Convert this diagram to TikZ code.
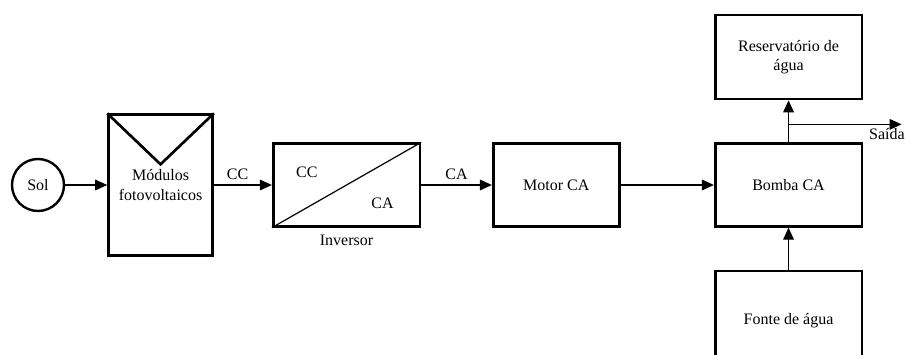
\documentclass[tikz,border=0pt]{standalone}
\usepackage{fontspec}
\setmainfont{Liberation Serif}
\usepackage{tikz}
\usetikzlibrary{arrows.meta, positioning}

\begin{document}
\begin{tikzpicture}[font=\fontsize{12}{14.5}\selectfont,
        block/.style={draw, line width=2pt, align=center, minimum height=62pt},
        arrow/.style={-{Triangle[length=9pt, width=8pt]}, line width=0.9pt}
      ]
        \useasboundingbox (-28.5pt,-126.75pt) rectangle (650.25pt,138.75pt);

        \node[circle, draw, line width=1.8pt, minimum size=39pt, inner sep=0pt] (sol) {Sol};
        \node[block, right=31.5pt of sol, minimum width=78pt, minimum height=105.5pt] (pv)
          {M\'odulos\\fotovoltaicos};
        \node[block, right=43.5pt of pv, minimum width=110pt]   (inv)   {};
        \node[block, right=53pt of inv, minimum width=94.5pt] (motor) {Motor CA};
        \node[block, right=70pt of motor, minimum width=110pt] (bomba) {Bomba CA};
        \node[block, above=31.5pt of bomba, minimum width=110pt, minimum height=63pt] (res)
          {Reservat\'orio de\\\'agua};
        \node[block, below=31.5pt of bomba, minimum width=110pt, minimum height=75pt] (fonte)
          {Fonte de \'agua};

        % painel e inversor
        \draw[line width=2pt] (pv.north west) -- ([yshift=-38.25pt]pv.north) -- (pv.north east);
        \draw[line width=0.9pt] (inv.south west) -- (inv.north east);
        \node at ([xshift=26.25pt, yshift=-22.5pt]inv.north west) (cctxt) {CC};
        \node at ([xshift=-29pt, yshift=18pt]inv.south east) (catxt) {CA};
        \node[below=2pt of inv] (invlbl) {Inversor};

        \draw[arrow] (sol) -- (pv);
        \draw[arrow] (pv) -- (inv) node[midway, above, xshift=-4pt] {CC};
        \draw[arrow] (inv) -- (motor) node[midway, above] {CA};
        \draw[arrow] (motor) -- (bomba);
        \draw[arrow] (fonte) -- (bomba);
        \draw[arrow] (bomba) -- (res);

        \coordinate (split) at ([yshift=13.5pt]bomba.north);
        \coordinate (out) at ([xshift=84.75pt]split);
        \draw[arrow] (split) -- (out) node[below, xshift=-11pt, yshift=1pt] (saida) {Sa\'ida};
      \end{tikzpicture}
\end{document}
